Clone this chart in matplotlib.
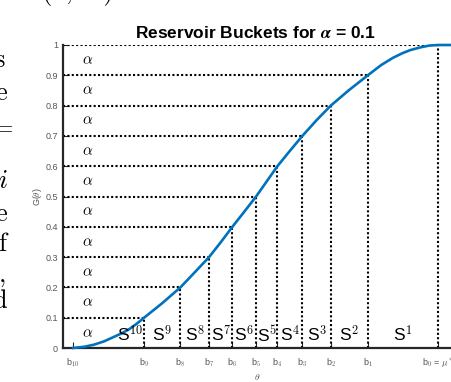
import matplotlib
matplotlib.use("Agg")
import matplotlib.pyplot as plt

# ---- data ----
theta_curve = [0.0, 0.0302, 0.0576, 0.0850, 0.1124, 0.1343, 0.1563, 0.1755, 0.1947,
               0.2445, 0.2942, 0.3345, 0.3729, 0.4055, 0.4368, 0.4695, 0.5018,
               0.5310, 0.5602, 0.5940, 0.6287, 0.6677, 0.7066, 0.7574, 0.8081,
               0.8450, 0.8775, 0.9030, 0.9241, 0.9515, 0.9760, 1.0, 1.10]
G_curve = [0.0, 0.004, 0.011, 0.022, 0.037, 0.049, 0.064, 0.081, 0.1,
           0.148, 0.2, 0.251, 0.3, 0.350, 0.4, 0.450, 0.5,
           0.550, 0.6, 0.650, 0.7, 0.752, 0.8, 0.852, 0.9,
           0.934, 0.958, 0.973, 0.983, 0.992, 0.998, 1.0, 1.0]

# bucket boundaries b_0 ... b_10 and their G levels
b_theta = [1.0, 0.8081, 0.7066, 0.6287, 0.5602, 0.5018, 0.4368, 0.3729, 0.2942, 0.1947, 0.0]
b_level = [1.0, 0.9, 0.8, 0.7, 0.6, 0.5, 0.4, 0.3, 0.2, 0.1, 0.0]
b_labels = [r"b$_\mathsf{0}$ = $\mu^*$", r"b$_\mathsf{1}$", r"b$_\mathsf{2}$", r"b$_\mathsf{3}$",
            r"b$_\mathsf{4}$", r"b$_\mathsf{5}$", r"b$_\mathsf{6}$", r"b$_\mathsf{7}$",
            r"b$_\mathsf{8}$", r"b$_\mathsf{9}$", r"b$_\mathsf{10}$"]
bucket_labels = [r"S$^\mathsf{1}$", r"S$^\mathsf{2}$", r"S$^\mathsf{3}$", r"S$^\mathsf{4}$",
                 r"S$^\mathsf{5}$", r"S$^\mathsf{6}$", r"S$^\mathsf{7}$", r"S$^\mathsf{8}$",
                 r"S$^\mathsf{9}$", r"S$^\mathsf{10}$"]
yticks = [0, 0.1, 0.2, 0.3, 0.4, 0.5, 0.6, 0.7, 0.8, 0.9, 1]
ytick_labels = ["0", "0.1", "0.2", "0.3", "0.4", "0.5", "0.6", "0.7", "0.8", "0.9", "1"]
alpha_value = 0.1

plt.rcParams['font.family'] = ['Liberation Sans', 'DejaVu Sans']
plt.rcParams['mathtext.fontset'] = 'cm'

W, H = 452, 382
fig = plt.figure(figsize=(W / 100, H / 100), dpi=100)

def px(x, y):
    return x / W, 1 - y / H

ax_left, ax_right, ax_top, ax_bot = 63.5, 475, 45, 348
ax = fig.add_axes([ax_left / W, 1 - ax_bot / H, (ax_right - ax_left) / W, (ax_bot - ax_top) / H])
x0 = -0.0263
x1 = x0 + (ax_right - ax_left) / 364.7
ax.set_xlim(x0, x1)
ax.set_ylim(0, 1)

dot = dict(color='black', linestyle=(0, (1, 1.1)), linewidth=1.5)
for bt, lv in zip(b_theta, b_level):
    if lv <= 0:
        continue
    ax.plot([x0, bt], [lv, lv], **dot, zorder=2)
    ax.plot([bt, bt], [0, lv], **dot, zorder=2)

ax.plot(theta_curve, G_curve, color='#0072BD', linewidth=1.9, zorder=3, clip_on=False,
        solid_joinstyle='round')

# alpha labels in each band
for lv in b_level[:-1]:
    ax.text(0.041, lv - 0.05, r"$\alpha$", fontsize=11, ha='center', va='center')

# bucket labels
for i, lab in enumerate(bucket_labels):
    right = b_theta[i]
    left = b_theta[i + 1]
    if i == len(bucket_labels) - 1:
        ax.text(right - 0.004, 0.045, lab, fontsize=12.5, ha='right', va='center')
    else:
        ax.text((left + right) / 2, 0.045, lab, fontsize=12.5, ha='center', va='center')

for s in ['top', 'right']:
    ax.spines[s].set_visible(False)
for s in ['left', 'bottom']:
    ax.spines[s].set_linewidth(1.6)
    ax.spines[s].set_color('#262626')

ax.set_yticks(yticks)
ax.set_yticklabels(ytick_labels)
ax.set_xticks(b_theta)
ax.set_xticklabels(b_labels)
ax.tick_params(axis='both', direction='in', length=4, width=0.8, colors='#262626',
               labelcolor='#555555', labelsize=6.5)
ax.tick_params(axis='x', pad=6)
ax.tick_params(axis='y', pad=4)

fig.text(*px(257, 377), r"$\theta$", fontsize=7, color='#555555', ha='center', va='center')
fig.text(*px(38, 197), r"G($\theta$)", fontsize=6.5, color='#555555', ha='center', va='center', rotation=90)

fig.text(*px(255, 33), r"Reservoir Buckets for $\boldsymbol{\alpha}$ = " + f"{alpha_value}",
         fontsize=12.5, fontweight='bold', ha='center', va='center')

# surrounding text from the source page
page = dict(family='cmr10', fontsize=19, color='black', va='baseline')
fig.text(*px(-6, 67), "s", ha='left', **page)
fig.text(*px(-5, 100), "e", ha='left', **page)
fig.text(*px(-7, 136), "=", ha='left', **page)
fig.text(*px(-2, 188), "i", ha='left', **dict(page, family='cmmi10'))
fig.text(*px(-5, 221), "e", ha='left', **page)
fig.text(*px(-2, 251), "f", ha='left', **page)
fig.text(*px(-1, 283), ",", ha='left', **page)
fig.text(*px(-8, 308), "d", ha='left', **page)
fig.text(*px(42, -1), "(4,  3)", ha='left', **page)

fig.savefig("out.png", dpi=100)
